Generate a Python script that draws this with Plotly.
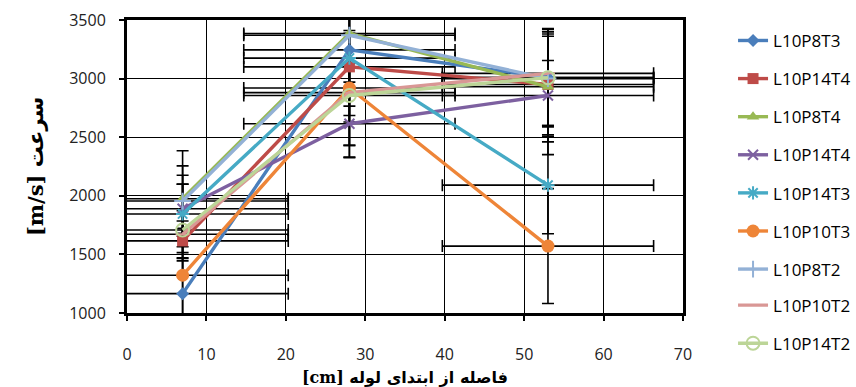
import plotly.graph_objects as go

x_pos = [7, 28, 53]
x_err = [13.3, 13.3, 13.3]

names = ["L10P8T3", "L10P14T4", "L10P8T4", "L10P14T4", "L10P14T3",
         "L10P10T3", "L10P8T2", "L10P10T2", "L10P14T2"]

v_L10P8T3 = [1165, 3245, 3010]
v_L10P14T4a = [1615, 3100, 2950]
v_L10P8T4 = [1975, 3385, 2930]
v_L10P14T4b = [1890, 2615, 2856]
v_L10P14T3 = [1845, 3175, 2091]
v_L10P10T3 = [1322, 2920, 1571]
v_L10P8T2 = [1955, 3370, 3000]
v_L10P10T2 = [1672, 2880, 3045]
v_L10P14T2 = [1708, 2856, 3008]

e_L10P8T3 = [300, 480, 410]
e_L10P14T4a = [170, 670, 430]
e_L10P8T4 = [410, 460, 470]
e_L10P14T4b = [210, 285, 505]
e_L10P14T3 = [330, 490, 415]
e_L10P10T3 = [400, 490, 490]
e_L10P8T2 = [300, 400, 400]
e_L10P10T2 = [200, 250, 110]
e_L10P14T2 = [390, 530, 420]

values = [v_L10P8T3, v_L10P14T4a, v_L10P8T4, v_L10P14T4b, v_L10P14T3,
          v_L10P10T3, v_L10P8T2, v_L10P10T2, v_L10P14T2]
errors = [e_L10P8T3, e_L10P14T4a, e_L10P8T4, e_L10P14T4b, e_L10P14T3,
          e_L10P10T3, e_L10P8T2, e_L10P10T2, e_L10P14T2]

colors = ["#4A7EBB", "#BE4B48", "#98B954", "#7D60A0", "#46AAC5",
          "#EE8538", "#93B1D6", "#D99795", "#BCD597"]
symbols = ["diamond", "square", "triangle-up", "x-thin-open", "asterisk-open",
           "circle", "cross-thin-open", "line-ew-open", "circle-open"]
sizes = [10, 11, 11, 10, 11, 13, 12, 10, 13]

fig = go.Figure()

# error bars first (below all lines)
for v, e in zip(values, errors):
    fig.add_trace(go.Scatter(
        x=x_pos, y=v, mode="markers",
        marker=dict(size=1, opacity=0),
        error_x=dict(type="data", array=x_err, color="black", thickness=1.6, width=6),
        error_y=dict(type="data", array=e, color="black", thickness=1.6, width=6),
        showlegend=False, hoverinfo="skip"))

for i, (n, v) in enumerate(zip(names, values)):
    sym = symbols[i]
    open_sym = sym.endswith("open")
    fig.add_trace(go.Scatter(
        x=x_pos, y=v, mode="lines+markers", name=n,
        legend="legend" if i < 7 else "legend2",
        legendgroup="g%d" % i,
        line=dict(color=colors[i], width=3.4),
        marker=dict(symbol=sym, size=sizes[i], color=colors[i],
                    line=dict(color=colors[i], width=2 if open_sym else 0))))

axis_common = dict(
    showline=True, linecolor="black", linewidth=3, mirror=True,
    showgrid=True, gridcolor="black", gridwidth=1,
    ticks="outside", ticklen=5, tickwidth=2, tickcolor="black",
    zeroline=False, automargin=False,
    tickfont=dict(family="Open Sans", size=16, color="#222"),
)

fig.update_xaxes(range=[0, 70], dtick=10, tick0=0, ticklabelstandoff=20,
                 title=dict(text="<b>[cm] فاصله از ابتدای لوله</b>",
                            font=dict(family="DejaVu Serif, DejaVu Sans", size=16, color="black"),
                            standoff=9),
                 **axis_common)
fig.update_yaxes(range=[1000, 3500], dtick=500, tick0=1000, ticklabelstandoff=10,
                 title=dict(text="<b>[m/s] سرعت</b>",
                            font=dict(family="DejaVu Serif, DejaVu Sans", size=21, color="black"),
                            standoff=20),
                 **axis_common)

leg_common = dict(xanchor="left", yanchor="top",
                  font=dict(family="Open Sans", size=17, color="black"),
                  tracegroupgap=13, bgcolor="rgba(0,0,0,0)")

fig.update_layout(
    width=856, height=387,
    margin=dict(l=127, r=173, t=20, b=74, autoexpand=False),
    paper_bgcolor="white", plot_bgcolor="white",
    legend=dict(x=1.09, y=0.99, **leg_common),
    legend2=dict(x=1.09, y=0.99 - 7 * 37.8 / 293, **leg_common),
    showlegend=True,
)

fig.write_html("out.html")
